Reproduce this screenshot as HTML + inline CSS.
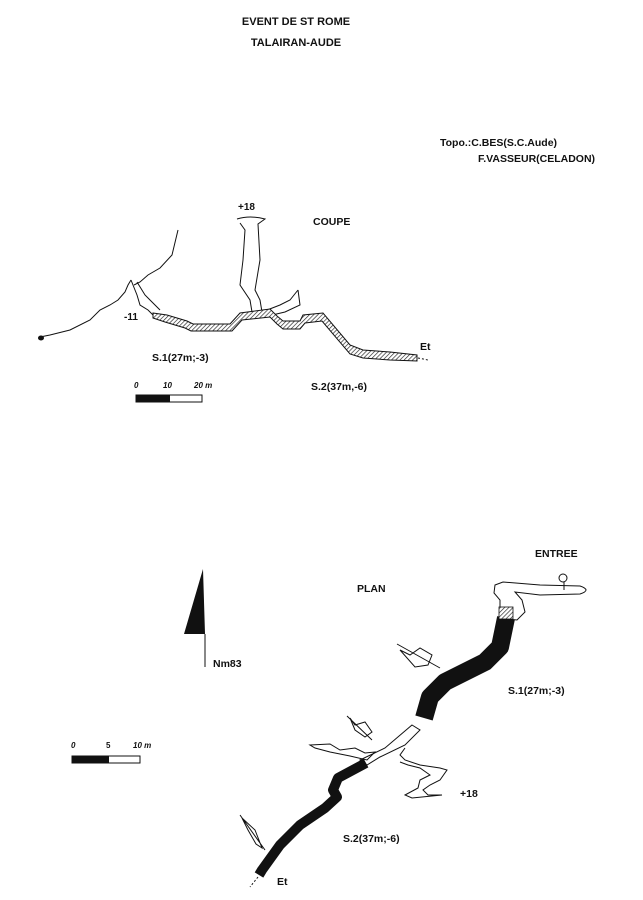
<!DOCTYPE html>
<html><head><meta charset="utf-8"><style>
html,body{margin:0;padding:0;background:#fff}
svg{display:block}
text{font-family:"Liberation Sans",sans-serif;font-weight:bold;fill:#111}
</style></head><body>
<svg width="643" height="900" viewBox="0 0 643 900" xmlns="http://www.w3.org/2000/svg">
<defs>
<pattern id="h" width="3" height="3" patternUnits="userSpaceOnUse" patternTransform="rotate(45)">
<rect width="3" height="3" fill="#fff"/><line x1="0" y1="0" x2="0" y2="3" stroke="#222" stroke-width="1.3"/></pattern>
</defs>
<text x="296" y="25" font-size="11" text-anchor="middle">EVENT DE ST ROME</text>
<text x="296" y="46" font-size="11" text-anchor="middle">TALAIRAN-AUDE</text>
<text x="440" y="146" font-size="10.5">Topo.:C.BES(S.C.Aude)</text>
<text x="478" y="162" font-size="10.5">F.VASSEUR(CELADON)</text>

<!-- COUPE -->
<text x="238" y="210" font-size="10">+18</text>
<text x="313" y="225" font-size="10.5">COUPE</text>
<text x="124" y="320" font-size="10">-11</text>
<text x="152" y="361" font-size="10.5">S.1(27m;-3)</text>
<text x="420" y="350" font-size="10.5">Et</text>
<text x="311" y="390" font-size="10.5">S.2(37m,-6)</text>
<text x="134" y="388" font-size="8" font-style="italic" font-weight="normal">0</text>
<text x="163" y="388" font-size="8" font-style="italic" font-weight="normal">10</text>
<text x="194" y="388" font-size="8" font-style="italic" font-weight="normal">20 m</text>
<rect x="136" y="395" width="66" height="7" fill="#fff" stroke="#111"/>
<rect x="136" y="395" width="34" height="7" fill="#111"/>

<g fill="none" stroke="#111" stroke-width="1">
<polyline points="40,337 50,335 70,330 90,320 100,310 110,305 118,300 125,292 128,285 131,280"/>
<polyline points="178,230 172,255 160,268 148,275 140,282 134,285"/>
<polyline points="131,280 137,295 140,305 148,310 153,315"/>
<polyline points="137,282 145,295 150,300 155,305 160,310"/>
<path d="M237,219 Q250,215 265,219 L258,224 L260,260 L255,290 L260,300 L262,312"/>
<polyline points="240,223 245,230 243,260 240,285 250,300 252,312"/>
<polyline points="262,312 280,305 290,300 298,290"/>
<polyline points="268,316 285,312 300,305 298,290"/>
</g>
<ellipse cx="41" cy="338" rx="3" ry="2.5" fill="#111"/>
<polygon fill="url(#h)" stroke="#111" stroke-width="1" points="153,313 167,315 187,321 193,324 230,324 240,313 270,309 277,316 283,321 300,321 303,315 323,313 350,345 363,350 390,352 417,355 417,361 390,360 363,358 350,354 322,321 305,323 300,329 283,329 277,324 270,317 242,320 232,331 191,331 185,328 165,322 153,318"/>
<line x1="418" y1="358" x2="428" y2="360" stroke="#111" stroke-dasharray="2,2"/>

<!-- PLAN -->
<text x="535" y="557" font-size="10.5">ENTREE</text>
<text x="357" y="592" font-size="10.5">PLAN</text>
<text x="213" y="667" font-size="10.5">Nm83</text>
<text x="508" y="694" font-size="10.5">S.1(27m;-3)</text>
<text x="460" y="797" font-size="10.5">+18</text>
<text x="343" y="842" font-size="10.5">S.2(37m;-6)</text>
<text x="277" y="885" font-size="10.5">Et</text>
<polygon points="203,569 184,634 205,634" fill="#111"/>
<line x1="205" y1="634" x2="205" y2="667" stroke="#111"/>
<text x="71" y="748" font-size="8" font-style="italic" font-weight="normal">0</text>
<text x="106" y="748" font-size="8" font-weight="normal">5</text>
<text x="133" y="748" font-size="8" font-style="italic" font-weight="normal">10 m</text>
<rect x="72" y="756" width="68" height="7" fill="#fff" stroke="#111"/>
<rect x="72" y="756" width="37" height="7" fill="#111"/>

<g fill="none" stroke="#111" stroke-width="1">
<path d="M495,585 L503,582 L540,585 L580,586 Q592,590 580,594 L540,595 L515,592 L522,600 L525,612 L517,620 L500,618 L500,600 L494,593 Z"/>
<circle cx="563" cy="578" r="4"/>
<line x1="564" y1="582" x2="564" y2="590"/>
<path d="M400,650 L410,655 L420,648 L432,655 L428,665 L415,667 Z M397,644 L440,668"/>
<path d="M350,718 L355,725 L365,722 L372,732 L365,737 L355,730 Z M347,716 L372,740"/>
<path d="M242,818 L255,830 L262,848 L256,844 L248,830 Z M240,815 L265,850"/>
<path d="M310,745 L330,744 L340,750 L355,748 L365,753 L375,752 L367,760 L350,756 L330,752 L315,748 Z"/>
<path d="M405,748 L400,755 L405,760 L420,765 L440,768 L447,770 L440,780 L430,785 L423,790 L428,795 L442,795 L412,798 L405,795 L418,788 L420,780 L430,775 L420,768 L408,765 L400,762"/>
<path d="M412,725 L420,730 L405,745 L380,757 L367,765 L360,760 L385,748 Z"/>
</g>
<polyline fill="none" stroke="#111" stroke-width="18" stroke-linejoin="round" points="506,618 500,647 485,662 445,682 430,697 424,718"/>
<polyline fill="none" stroke="#111" stroke-width="10" stroke-linejoin="round" points="366,763 338,778 333,790 337,797 325,808 300,825 280,845 262,870 259,875"/>
<line x1="258" y1="877" x2="250" y2="887" stroke="#111" stroke-dasharray="2,2"/>
<rect x="499" y="607" width="14" height="12" fill="url(#h)" stroke="#111" stroke-width="0.8"/>
</svg>
</body></html>
